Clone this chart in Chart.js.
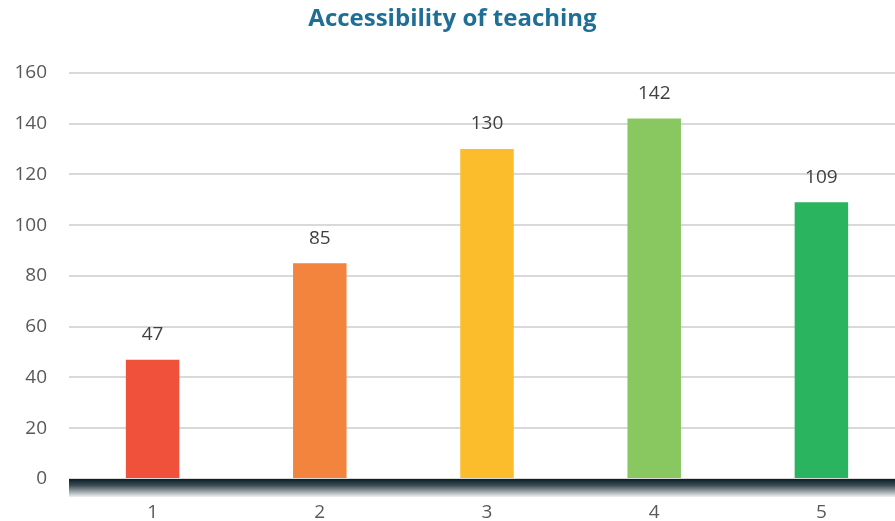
<!DOCTYPE html>
<html>
<head>
<meta charset="utf-8">
<script src="https://cdn.jsdelivr.net/npm/chart.js@4"></script>
<style>
  html, body { margin: 0; padding: 0; background: #fff; overflow: hidden; }
</style>
</head>
<body>
<canvas id="teachChart" width="905" height="521"></canvas>
<script>
const categories = ['1', '2', '3', '4', '5'];
const responses = [47, 85, 130, 142, 109];
const barColors = ['#EF513A', '#F2843D', '#FBBD2B', '#89C861', '#2BB460'];

// value labels above each bar
const valueLabels = {
  id: 'valueLabels',
  afterDatasetsDraw(chart) {
    const c = chart.ctx;
    const meta = chart.getDatasetMeta(0);
    c.save();
    c.font = '19px "Open Sans"';
    c.fillStyle = '#404040';
    c.textAlign = 'center';
    c.textBaseline = 'middle';
    meta.data.forEach((bar, i) => {
      c.fillText(responses[i], bar.x, bar.y - 25);
    });
    c.restore();
  }
};

// dark shaded band along the category axis
const baseBand = {
  id: 'baseBand',
  beforeDatasetsDraw(chart) {
    const c = chart.ctx;
    const a = chart.chartArea;
    const y0 = chart.scales.y.getPixelForValue(0);
    const g = c.createLinearGradient(0, y0, 0, y0 + 18);
    g.addColorStop(0, '#0c1c23');
    g.addColorStop(0.35, '#3c4c54');
    g.addColorStop(1, '#eef1f2');
    c.save();
    c.fillStyle = g;
    c.fillRect(a.left, y0, a.right - a.left, 18);
    c.restore();
  }
};

new Chart(document.getElementById('teachChart').getContext('2d'), {
  type: 'bar',
  data: {
    labels: categories,
    datasets: [{
      data: responses,
      backgroundColor: barColors,
      borderWidth: 0,
      categoryPercentage: 1,
      barPercentage: 0.32
    }]
  },
  plugins: [baseBand, valueLabels],
  options: {
    responsive: false,
    animation: false,
    layout: { padding: 0 },
    plugins: {
      legend: { display: false },
      tooltip: { enabled: false },
      title: {
        display: true,
        text: 'Accessibility of teaching',
        color: '#1F6E96',
        font: { family: '"Open Sans"', size: 24, weight: 'bold' },
        padding: { top: 5, bottom: 39 }
      }
    },
    scales: {
      x: {
        grid: { display: false },
        border: { display: false },
        ticks: { color: '#595959', font: { family: '"Open Sans"', size: 19 }, padding: 14 },
        afterFit(s) { s.height = 42; }
      },
      y: {
        min: 0,
        max: 160,
        ticks: { stepSize: 20, color: '#595959', font: { family: '"Open Sans"', size: 19 }, padding: 22 },
        grid: { color: '#D9D9D9', lineWidth: 2, drawTicks: false },
        border: { display: false },
        afterFit(s) { s.width = 69; }
      }
    }
  }
});
</script>
</body>
</html>
